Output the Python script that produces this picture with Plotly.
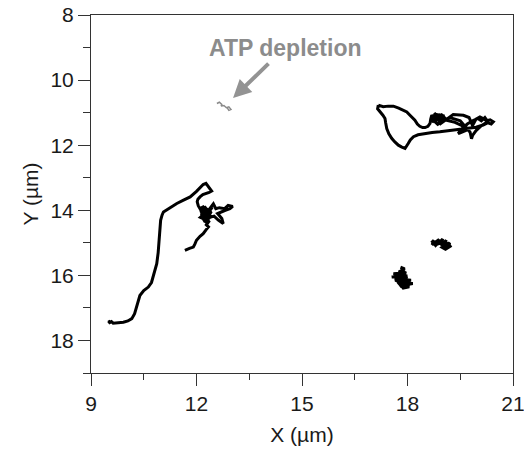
import plotly.graph_objects as go

# Trajectory A (left, long run ending in a dense cluster)
ax_x = [9.49, 9.55, 9.50, 9.58, 9.63, 9.80, 9.92, 10.05, 10.16, 10.24, 10.30, 10.34, 10.39, 10.50, 10.63,
        10.72, 10.77, 10.83, 10.87, 10.91, 10.94, 10.96, 10.98, 11.02, 11.06, 11.25, 11.44, 11.63, 11.82,
        12.00, 12.19, 12.27, 12.31, 12.38, 12.43, 12.36, 12.29, 12.18, 12.10, 12.04, 12.02, 12.05, 12.10,
        12.22, 12.15, 12.30, 12.20, 12.35, 12.12, 12.28, 12.18, 12.40, 12.25, 12.45, 12.32, 12.15, 12.25,
        12.32, 12.18, 12.28, 12.38, 12.22, 12.14, 12.26, 12.36, 12.20, 12.31, 12.13, 12.24, 12.42, 12.29,
        12.17, 12.34, 12.11, 12.27, 12.39, 12.19, 12.33, 12.23, 12.41, 12.16, 12.30, 12.21, 12.37, 12.26,
        12.48, 12.55, 12.65, 12.80, 12.90, 13.03, 12.95, 12.82,
        12.70, 12.60, 12.72, 12.76, 12.62, 12.50, 12.38, 12.30, 12.25, 12.35, 12.28, 12.34, 12.27, 12.19,
        12.10, 12.00, 11.95, 11.91, 11.80, 11.67]
ax_y = [17.44, 17.40, 17.47, 17.42, 17.47, 17.46, 17.44, 17.40, 17.33, 17.18, 16.97, 16.78, 16.62, 16.47, 16.36,
        16.22, 16.05, 15.85, 15.64, 15.30, 14.92, 14.60, 14.31, 14.15, 14.05, 13.92, 13.79, 13.69, 13.59,
        13.42, 13.21, 13.17, 13.23, 13.30, 13.41, 13.45, 13.47, 13.52, 13.59, 13.66, 13.74, 13.86, 13.95,
        13.88, 14.02, 13.95, 14.10, 14.05, 14.12, 14.20, 13.98, 14.00, 14.15, 13.90, 14.10, 14.00, 13.92,
        14.02, 14.08, 14.12, 14.08, 14.18, 14.05, 13.97, 14.14, 14.24, 13.93, 14.16, 14.06, 14.04, 14.26,
        13.94, 14.00, 14.22, 14.30, 14.18, 14.34, 14.26, 14.38, 14.14, 14.28, 14.10, 14.32, 14.20, 14.12,
        13.80, 13.95, 13.92, 13.95, 13.85, 13.88, 13.95, 14.00,
        14.05, 14.10, 14.25, 14.41, 14.30, 14.18, 14.22, 14.30, 14.22, 14.35, 14.45, 14.51, 14.60, 14.72,
        14.80, 14.92, 15.05, 15.13, 15.17, 15.23]

# Trajectory B (upper right loop)
bx = [17.17, 17.31, 17.45, 17.60, 17.75, 17.88, 17.98, 18.07, 18.14, 18.21, 18.28, 18.35, 18.43, 18.50,
      18.58, 18.64, 18.66, 18.69, 18.75, 18.70, 18.85, 18.80, 18.95, 18.90, 19.05, 18.78, 18.98, 19.10,
      18.88, 19.00, 18.82, 18.93, 18.72, 18.86, 19.02, 18.76, 18.94, 19.30, 19.59, 19.75, 19.85, 19.95,
      20.06, 20.15, 20.25, 20.35, 20.44, 20.38, 20.25,
      20.10, 19.95, 19.85, 19.82, 19.78, 19.70, 19.60, 19.50, 19.35, 19.20, 19.05, 19.35, 19.55, 19.65,
      19.50, 19.44, 19.55, 19.70, 19.85, 20.00, 20.10, 20.20, 20.30, 20.15, 19.95, 19.75, 19.60, 19.40,
      19.20, 18.92, 18.70, 18.45, 18.30, 18.17, 18.08, 18.02, 17.96, 17.93, 17.84, 17.74, 17.64, 17.55,
      17.47, 17.41, 17.38, 17.36, 17.30, 17.22, 17.15, 17.17]
by = [10.77, 10.82, 10.80, 10.80, 10.86, 10.92, 10.98, 11.08, 11.15, 11.23, 11.35, 11.42, 11.46, 11.46,
      11.42, 11.33, 11.20, 11.08, 11.15, 11.30, 11.10, 11.25, 11.05, 11.20, 11.10, 11.05, 11.28, 11.15,
      11.32, 11.05, 11.18, 11.12, 11.22, 11.36, 11.24, 11.02, 11.34, 11.06, 11.08, 11.15, 11.40, 11.20,
      11.13, 11.18, 11.25, 11.22, 11.28, 11.35, 11.30,
      11.40, 11.55, 11.70, 11.80, 11.60, 11.50, 11.35, 11.25, 11.20, 11.15, 11.22, 11.30, 11.40, 11.55,
      11.62, 11.64, 11.50, 11.35, 11.25, 11.18, 11.25, 11.15, 11.30, 11.38, 11.45, 11.48, 11.50, 11.54,
      11.57, 11.59, 11.61, 11.64, 11.68, 11.74, 11.84, 11.95, 12.05, 12.10, 12.06, 12.00, 11.90, 11.79,
      11.65, 11.49, 11.32, 11.18, 11.08, 10.98, 10.88, 10.77]

# Cluster C (around 17.9, 16.0)
cx = [17.80, 17.92, 17.75, 17.95, 17.60, 17.85, 17.55, 18.00, 17.70, 17.95, 18.10, 17.80, 18.15, 17.90,
      17.75, 18.05, 17.85, 17.95, 17.65, 17.90, 17.78, 17.88, 18.02, 17.70, 17.82, 17.98, 17.62, 17.86,
      18.08, 17.76, 17.94, 17.84, 17.72, 17.99, 17.81, 17.68, 17.93, 18.06]
cy = [15.75, 15.80, 15.90, 15.92, 15.95, 16.00, 16.05, 16.02, 16.10, 16.12, 16.15, 16.20, 16.25, 16.30,
      16.25, 16.35, 16.40, 16.22, 16.15, 15.95, 15.85, 16.08, 16.28, 16.00, 16.32, 16.05, 16.05, 16.18,
      16.30, 16.12, 15.88, 16.36, 16.20, 16.16, 15.98, 16.04, 16.26, 16.20]

# Cluster D (around 19.0, 15.0)
dx = [18.68, 18.75, 18.70, 18.82, 18.90, 18.85, 19.00, 18.95, 19.10, 19.05, 19.20, 19.15, 19.25, 19.08,
      18.98, 19.12, 18.92, 18.80, 18.72, 18.88, 19.02, 19.18, 19.10, 18.96, 19.06, 19.16]
dy = [15.00, 14.92, 15.06, 14.98, 14.90, 15.05, 14.88, 15.08, 14.92, 15.12, 15.00, 15.15, 15.08, 15.20,
      15.14, 15.02, 14.96, 15.08, 14.96, 15.00, 15.05, 15.10, 15.18, 14.95, 14.98, 15.04]

# ATP depletion trajectory (gray)
gx = [12.58, 12.65, 12.72, 12.70, 12.78, 12.85, 12.92, 12.98, 12.92, 12.88]
gy = [10.72, 10.68, 10.75, 10.80, 10.78, 10.85, 10.82, 10.90, 10.93, 10.86]

FONT = "Liberation Sans, Arial"

fig = go.Figure()
for xs, ys in [(ax_x, ax_y), (bx, by), (cx, cy), (dx, dy)]:
    fig.add_trace(go.Scatter(x=xs, y=ys, mode="lines",
                             line=dict(color="black", width=3), hoverinfo="skip"))
fig.add_trace(go.Scatter(x=gx, y=gy, mode="lines",
                         line=dict(color="#8a8a8a", width=1.5), hoverinfo="skip"))

fig.add_annotation(x=14.52, y=9.02, text="<b>ATP depletion</b>", showarrow=False,
                   font=dict(family=FONT, size=23, color="#8c8c8c"))
fig.add_annotation(x=13.04, y=10.55, ax=14.09, ay=9.45, axref="x", ayref="y",
                   text="", showarrow=True, arrowhead=2, arrowsize=0.9, arrowwidth=4,
                   arrowcolor="#939393")

axis_common = dict(showline=True, linecolor="#333", linewidth=1, mirror=True, automargin=False,
                   ticks="outside", ticklen=12, tickcolor="#333", showgrid=False, zeroline=False,
                   ticklabeloverflow="allow",
                   tickfont=dict(family=FONT, size=21, color="#1a1a1a"))

fig.update_xaxes(range=[9, 21], tickvals=[9, 12, 15, 18, 21],
                 minor=dict(tickvals=[10.5, 13.5, 16.5, 19.5], ticklen=6, ticks="outside", tickcolor="#333"),
                 title=dict(text="X (µm)", font=dict(family=FONT, size=21, color="#1a1a1a"),
                            standoff=13),
                 **axis_common)
fig.update_yaxes(range=[19, 8], tickvals=[8, 10, 12, 14, 16, 18],
                 minor=dict(tickvals=[9, 11, 13, 15, 17, 19], ticklen=7, ticks="outside", tickcolor="#333"),
                 title=dict(text="Y (µm)", font=dict(family=FONT, size=21, color="#1a1a1a"),
                            standoff=6),
                 **axis_common)

fig.update_layout(width=524, height=451, margin=dict(l=91, r=11, t=15, b=78),
                  plot_bgcolor="white", paper_bgcolor="white", showlegend=False)

fig.write_html("out.html", config={"displayModeBar": False},
               post_script="document.body.style.margin='0';")
